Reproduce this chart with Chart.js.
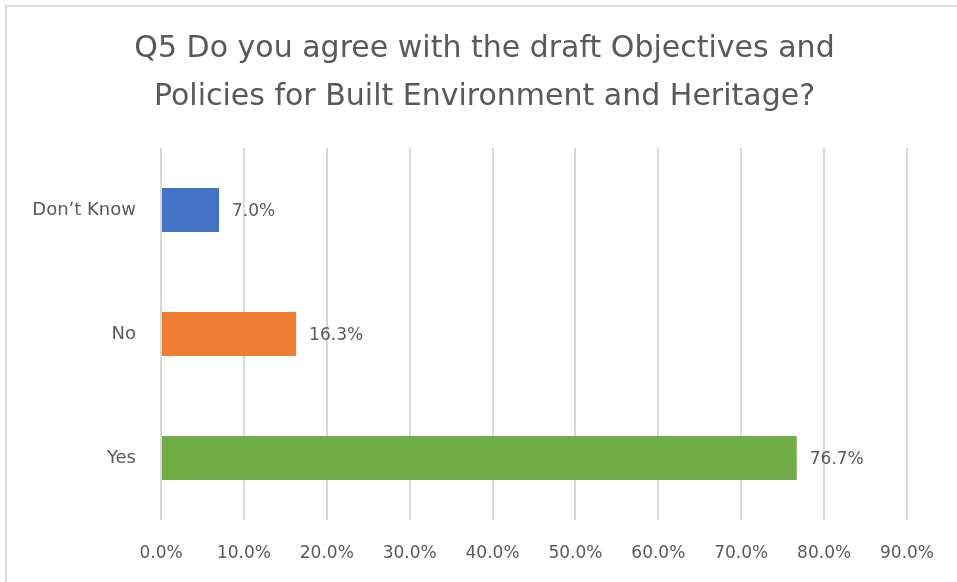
<!DOCTYPE html>
<html>
<head>
<meta charset="utf-8">
<script src="https://cdn.jsdelivr.net/npm/chart.js@4"></script>
<style>
  html, body { margin: 0; padding: 0; background: #ffffff; }
  #wrap { position: relative; width: 957px; height: 582px; overflow: hidden; }
  #frame {
    position: absolute; left: 5px; top: 5px; right: -10px; bottom: -10px;
    border-top: 2px solid #dcdcdc; border-left: 2px solid #dcdcdc;
  }
  #chart { position: absolute; left: 0; top: 0; }
</style>
</head>
<body>
<div id="wrap">
  <div id="frame"></div>
  <canvas id="chart" width="957" height="582"></canvas>
</div>
<script>
const titleLines = ['Q5 Do you agree with the draft Objectives and', 'Policies for Built Environment and Heritage?'];
const answers = ['Don\u2019t Know', 'No', 'Yes'];
const shares = [7.0, 16.3, 76.7];
const barColors = ['#4472c4', '#ed7d31', '#70ad47'];
const axisMax = 90;
const axisStep = 10;

const textGrey = '#595959';
const smallFont = { family: 'DejaVu Sans', size: 17 };

// value labels to the right of each bar
const barValueLabels = {
  id: 'barValueLabels',
  afterDatasetsDraw(chart) {
    const ctx = chart.ctx;
    const meta = chart.getDatasetMeta(0);
    ctx.save();
    ctx.font = smallFont.size + 'px "' + smallFont.family + '"';
    ctx.fillStyle = textGrey;
    ctx.textAlign = 'left';
    ctx.textBaseline = 'middle';
    meta.data.forEach((bar, i) => {
      ctx.fillText(shares[i].toFixed(1) + '%', bar.x + 13, bar.y + 2);
    });
    ctx.restore();
  }
};

// centre the title over the whole frame rather than the padded box
const titleShift = {
  id: 'titleShift',
  afterLayout(chart) {
    if (chart.titleBlock) {
      chart.titleBlock.left = 12;
      chart.titleBlock.right = 957;
    }
  }
};

new Chart(document.getElementById('chart').getContext('2d'), {
  type: 'bar',
  data: {
    labels: answers,
    datasets: [{
      data: shares,
      backgroundColor: barColors,
      borderWidth: 0,
      categoryPercentage: 0.355,
      barPercentage: 1
    }]
  },
  options: {
    indexAxis: 'y',
    responsive: false,
    animation: false,
    layout: { padding: { left: 0, right: 49, top: 0, bottom: 0 } },
    plugins: {
      legend: { display: false },
      tooltip: { enabled: false },
      title: {
        display: true,
        text: titleLines,
        color: textGrey,
        font: { family: 'DejaVu Sans', size: 30, weight: 'normal', lineHeight: 1.6 },
        padding: { top: 25, bottom: 27 }
      }
    },
    scales: {
      x: {
        min: 0,
        max: axisMax,
        ticks: {
          stepSize: axisStep,
          color: textGrey,
          padding: 23,
          font: smallFont,
          callback: v => v.toFixed(1) + '%'
        },
        grid: { color: '#d9d9d9', lineWidth: 2, drawTicks: false },
        border: { display: false },
        afterFit(scale) { scale.height = 62; }
      },
      y: {
        ticks: {
          color: textGrey,
          padding: 25,
          font: { family: 'DejaVu Sans', size: 18 }
        },
        grid: { display: false, drawTicks: false },
        border: { display: false },
        afterFit(scale) { scale.width = 161; }
      }
    }
  },
  plugins: [barValueLabels, titleShift]
});
</script>
</body>
</html>
